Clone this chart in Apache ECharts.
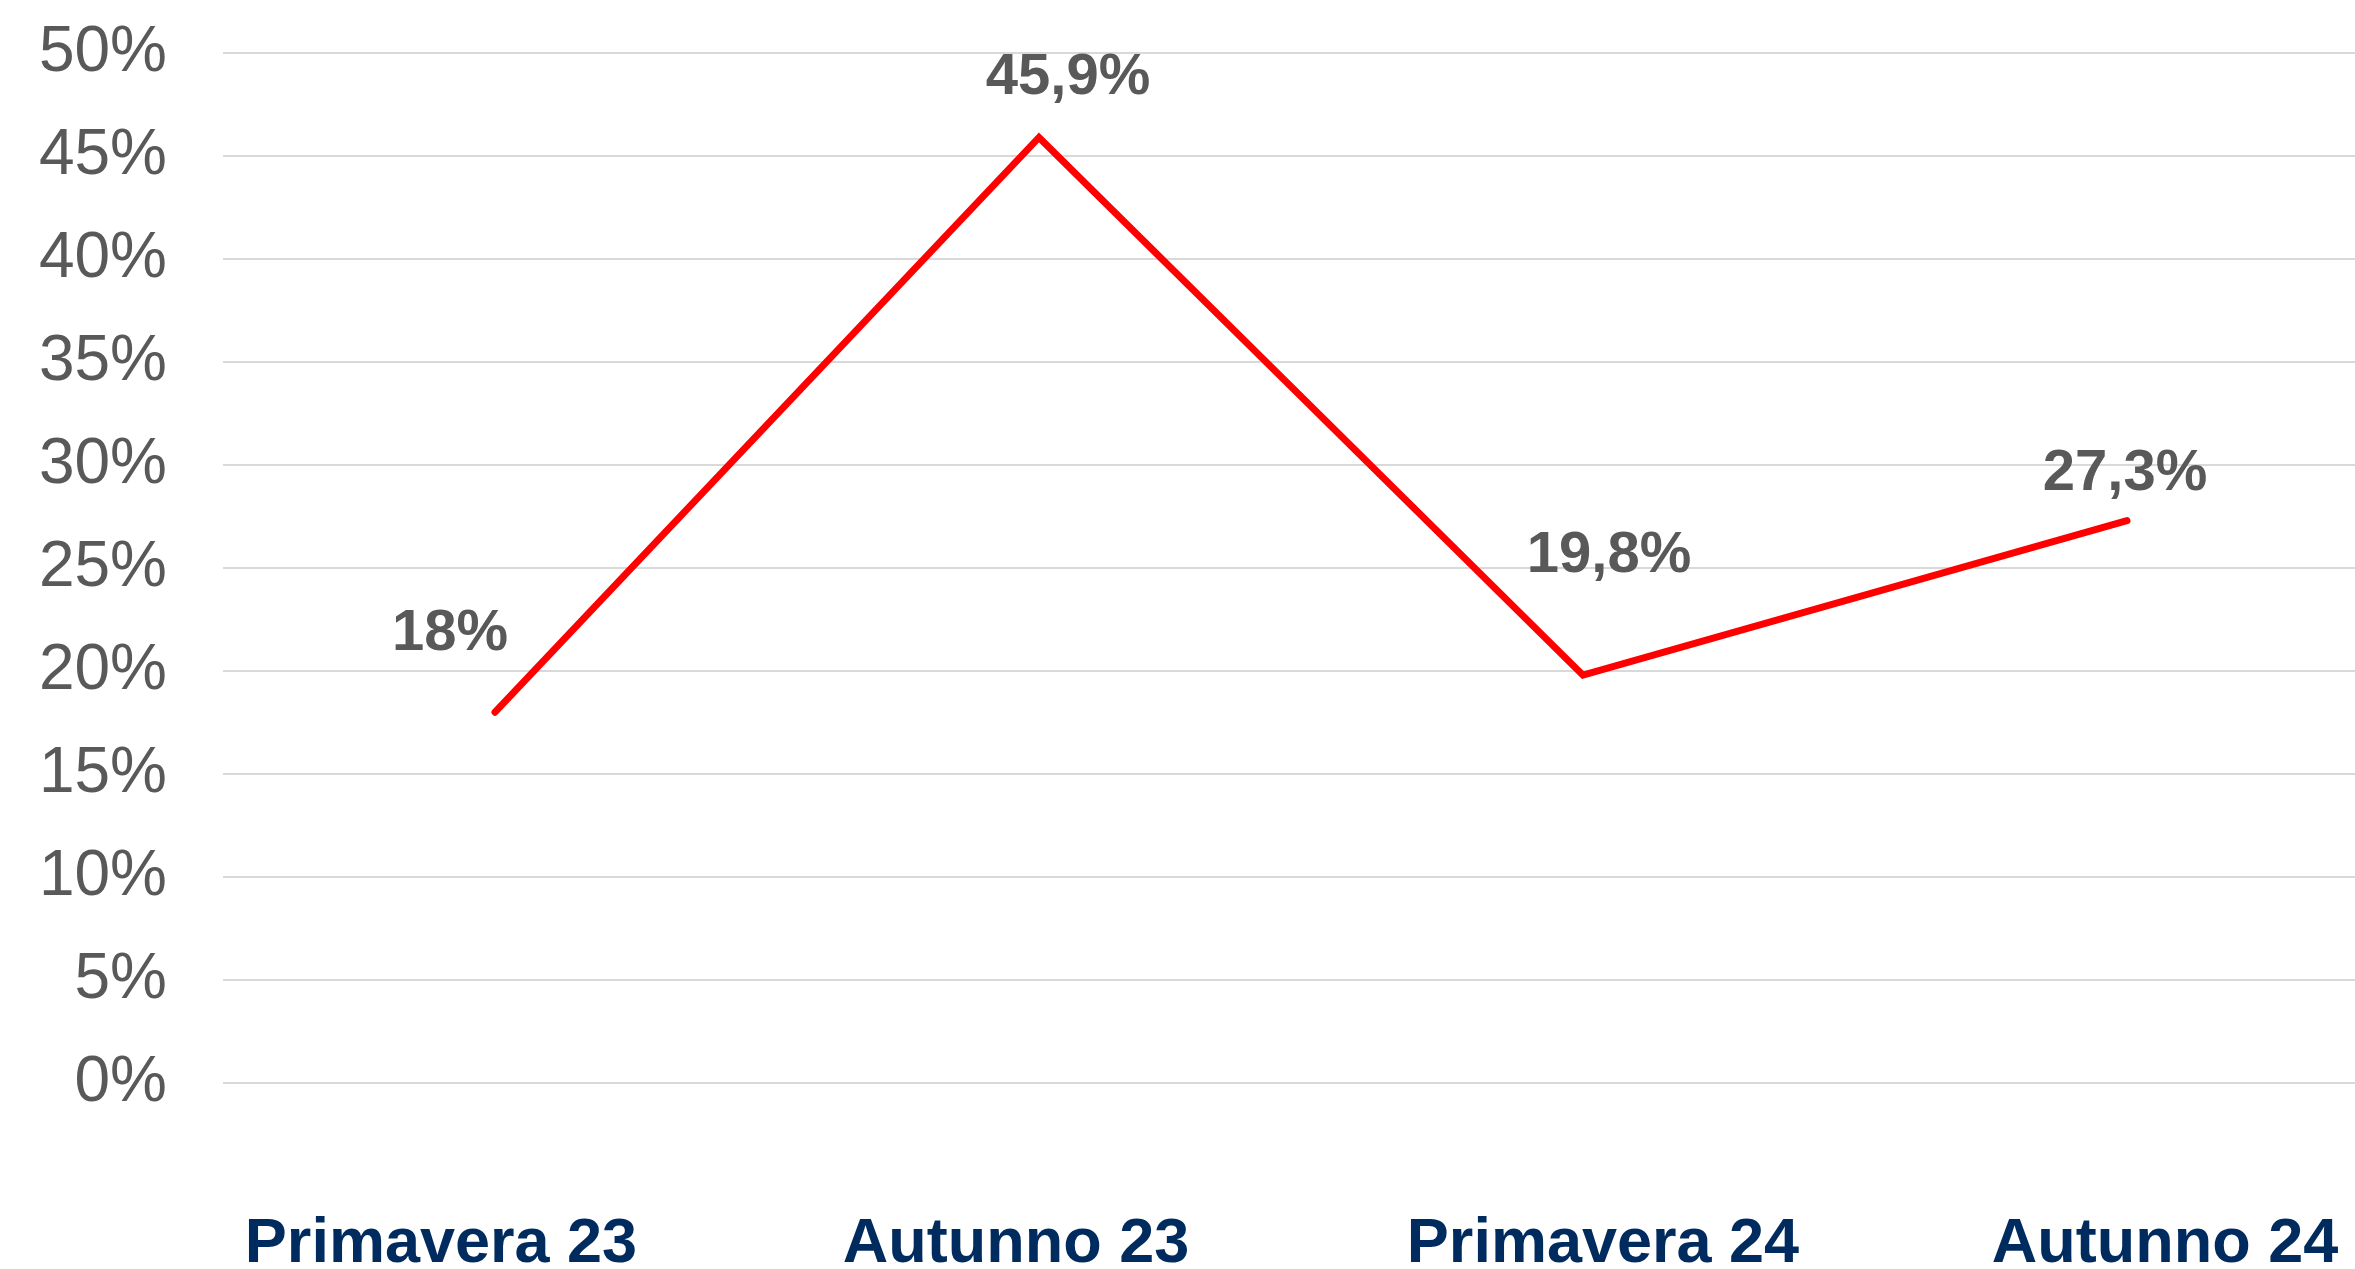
<!DOCTYPE html>
<html>
<head>
    <meta charset="UTF-8">
    <title>Primavera / Autunno</title>
    <style>
        html, body { margin: 0; padding: 0; background: #fff; }
        #main { width: 2355px; height: 1269px; }
    </style>
</head>
<body>
<div id="main"></div>
<script src="https://cdn.jsdelivr.net/npm/echarts@6/dist/echarts.min.js"></script>
<script>
    // dati
    var categories = ['Primavera 23', 'Autunno 23', 'Primavera 24', 'Autunno 24'];
    var values = [18, 45.9, 19.8, 27.3];
    var yTicks = [0, 5, 10, 15, 20, 25, 30, 35, 40, 45, 50];

    var font = "'Liberation Sans', Arial, sans-serif";
    // spostamento delle etichette come nell'originale
    var labelShift = [[-45, -78], [29, -59], [26, -119], [-2, -47]];
    var catShift = [-54, -23, 20, 38];

    var rich = {};
    catShift.forEach(function (s, i) {
        rich['c' + i] = {
            fontFamily: font, fontSize: 63, fontWeight: 'bold', color: '#002b5e',
            padding: s < 0 ? [0, -2 * s, 0, 0] : [0, 0, 0, 2 * s]
        };
    });

    var chart = echarts.init(document.getElementById('main'));
    chart.setOption({
        animation: false,
        grid: { left: 223, right: -44, top: 53, bottom: 186, containLabel: false, outerBoundsMode: 'none' },
        xAxis: {
            type: 'category',
            data: categories,
            boundaryGap: true,
            axisLine: { show: false },
            axisTick: { show: false },
            axisLabel: {
                margin: 130,
                interval: 0,
                formatter: function (v, i) { return '{c' + i + '|' + v + '}'; },
                rich: rich
            }
        },
        yAxis: {
            type: 'value',
            min: yTicks[0],
            max: yTicks[yTicks.length - 1],
            interval: yTicks[1] - yTicks[0],
            axisLine: { show: false },
            axisTick: { show: false },
            axisLabel: {
                margin: 56,
                formatter: '{value}%',
                fontFamily: font,
                fontSize: 64,
                color: '#595959'
            },
            splitLine: { lineStyle: { color: '#d9d9d9', width: 2 } }
        },
        series: [{
            type: 'line',
            data: values.map(function (v, i) {
                return { value: v, label: { offset: labelShift[i] } };
            }),
            symbol: 'circle',
            symbolSize: 1,
            itemStyle: { color: '#ff0000' },
            lineStyle: { color: '#ff0000', width: 7, cap: 'round', join: 'miter' },
            label: {
                show: true,
                position: 'inside',
                fontFamily: font,
                fontSize: 58,
                fontWeight: 'bold',
                color: '#595959',
                formatter: function (p) { return String(p.value).replace('.', ',') + '%'; }
            }
        }]
    });
</script>
</body>
</html>
